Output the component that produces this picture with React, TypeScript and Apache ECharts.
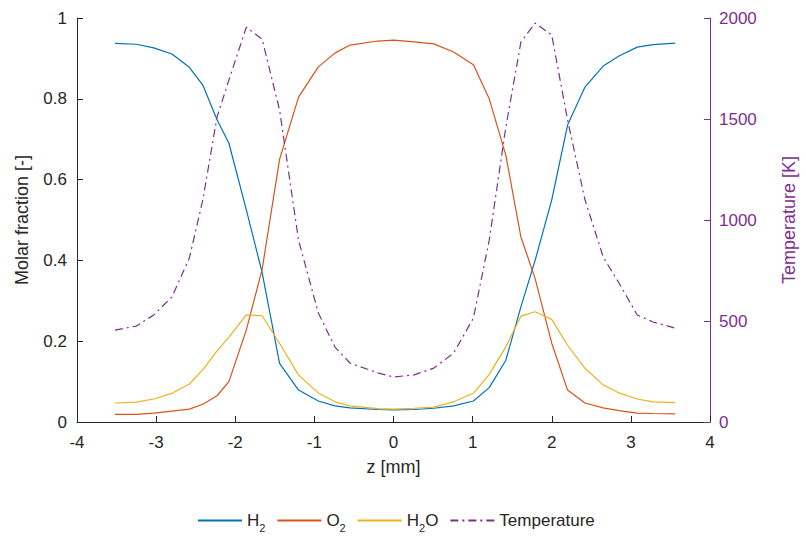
import React, { useEffect, useRef } from "react";
import * as echarts from "echarts";

const zGrid = [
  -3.52, -3.25, -3.03, -2.8, -2.58, -2.41, -2.23, -2.08, -1.86, -1.66, -1.44,
  -1.2, -0.95, -0.74, -0.55, -0.2, 0, 0.26, 0.51, 0.76, 1.01, 1.21, 1.42, 1.61,
  1.79, 2.0, 2.2, 2.42, 2.65, 2.85, 3.08, 3.28, 3.56,
];
const h2 = [
  0.937, 0.935, 0.926, 0.911, 0.878, 0.834, 0.748, 0.69, 0.525, 0.37, 0.145,
  0.079, 0.052, 0.04, 0.035, 0.031, 0.03, 0.031, 0.034, 0.04, 0.052, 0.085,
  0.153, 0.285, 0.4, 0.55, 0.735, 0.829, 0.881, 0.906, 0.928, 0.934, 0.938,
];
const o2 = [
  0.019, 0.019, 0.022, 0.027, 0.032, 0.044, 0.065, 0.1, 0.228, 0.378, 0.65,
  0.804, 0.879, 0.913, 0.933, 0.943, 0.945, 0.941, 0.936, 0.916, 0.884, 0.8,
  0.66, 0.458, 0.355, 0.195, 0.079, 0.047, 0.035, 0.028, 0.022, 0.021, 0.02,
];
const h2o = [
  0.047, 0.049, 0.057, 0.071, 0.094, 0.129, 0.176, 0.21, 0.265, 0.263, 0.195,
  0.116, 0.072, 0.05, 0.04, 0.033, 0.032, 0.034, 0.037, 0.05, 0.071, 0.118,
  0.186, 0.262, 0.273, 0.254, 0.19, 0.133, 0.092, 0.072, 0.057, 0.05, 0.048,
];
const temperature = [
  455, 475, 530, 619, 812, 1099, 1510, 1693, 1955, 1895, 1545, 900, 540, 371,
  292, 243, 223, 233, 267, 341, 515, 900, 1460, 1881, 1975, 1916, 1495, 1100,
  817, 688, 530, 495, 465,
];

const xTicks = { min: -4, max: 4, interval: 1 };
const leftTicks = { min: 0, max: 1, interval: 0.2 };
const rightTicks = { min: 0, max: 2000, interval: 500 };

const FONT = "'Liberation Sans', Arial, Helvetica, sans-serif";
const DARK = "#262626";
const PURPLE = "#7E2F8E";

const pair = (vals: number[]) => zGrid.map((z, i) => [z, vals[i]]);

export default function App() {
  const ref = useRef<HTMLDivElement>(null);
  useEffect(() => {
    if (!ref.current) return;
    document.documentElement.style.overflow = "hidden";
    document.body.style.overflow = "hidden";
    document.body.style.margin = "0";
    const chart = echarts.init(ref.current, null, { renderer: "svg", width: 806, height: 541 });
    const lineSeries = (name: string, data: number[], color: string, yAxisIndex = 0, type: any = "solid") => ({
      name,
      type: "line",
      yAxisIndex,
      data: pair(data),
      symbol: "none",
      showSymbol: false,
      lineStyle: { color, width: 1.2, type },
      itemStyle: { color },
      z: 3,
    });
    chart.setOption({
      animation: false,
      backgroundColor: "#ffffff",
      textStyle: { fontFamily: FONT },
      grid: { left: 77, right: 88, top: 18, bottom: 119, containLabel: false },
      xAxis: {
        type: "value",
        ...xTicks,
        name: "z [mm]",
        nameLocation: "middle",
        nameGap: 36,
        nameTextStyle: { fontSize: 18, color: DARK, fontFamily: FONT },
        axisLine: { show: true, onZero: false, lineStyle: { color: DARK, width: 1 } },
        axisTick: { show: true, inside: true, length: 6, lineStyle: { color: DARK } },
        axisLabel: { fontSize: 17, color: DARK, margin: 12, fontFamily: FONT },
        splitLine: { show: false },
      },
      yAxis: [
        {
          type: "value",
          ...leftTicks,
          position: "left",
          name: "Molar fraction [-]",
          nameLocation: "middle",
          nameGap: 46,
          nameTextStyle: { fontSize: 18, color: DARK, fontFamily: FONT },
          axisLine: { show: true, onZero: false, lineStyle: { color: DARK, width: 1 } },
          axisTick: { show: true, inside: true, length: 6, lineStyle: { color: DARK } },
          axisLabel: { fontSize: 17, color: DARK, margin: 10, fontFamily: FONT },
          splitLine: { show: false },
        },
        {
          type: "value",
          ...rightTicks,
          position: "right",
          name: "Temperature [K]",
          nameLocation: "middle",
          nameGap: 70,
          nameRotate: 90,
          nameTextStyle: { fontSize: 18, color: PURPLE, fontFamily: FONT },
          axisLine: { show: true, onZero: false, lineStyle: { color: PURPLE, width: 1 } },
          axisTick: { show: true, inside: true, length: 6, lineStyle: { color: PURPLE } },
          axisLabel: {
            fontSize: 17,
            color: PURPLE,
            margin: 9,
            fontFamily: FONT,
            formatter: (v: number) => String(v),
          },
          splitLine: { show: false },
        },
      ],
      legend: {
        left: 197,
        top: 512,
        padding: 0,
        itemWidth: 44,
        itemHeight: 12,
        itemGap: 11,
        itemStyle: { opacity: 0 },
        data: ["H2", "O2", "H2O", "Temperature"],
        formatter: (name: string) => {
          if (name === "H2") return "{a|H}{b|2}";
          if (name === "O2") return "{a|O}{b|2}";
          if (name === "H2O") return "{a|H}{b|2}{a|O}";
          return "{a|" + name + "}";
        },
        textStyle: {
          fontFamily: FONT,
          color: DARK,
          rich: {
            a: { fontSize: 17, color: DARK, fontFamily: FONT },
            b: { fontSize: 11, color: DARK, fontFamily: FONT, padding: [15, 0, 0, 0] },
          },
        },
      },
      series: [
        lineSeries("H2", h2, "#0072BD"),
        lineSeries("O2", o2, "#D95319"),
        lineSeries("H2O", h2o, "#EDB120"),
        lineSeries("Temperature", temperature, PURPLE, 1, [8, 4, 2, 4]),
      ],
    });
    return () => chart.dispose();
  }, []);
  return <div ref={ref} style={{ width: 806, height: 541, position: "fixed", left: 0, top: 0 }} />;
}
